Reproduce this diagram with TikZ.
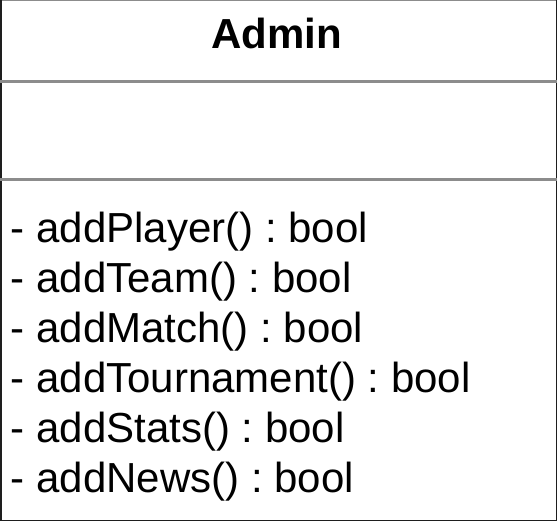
\documentclass[tikz,border=0pt]{standalone}
\usepackage{fontspec}
\setmainfont{Liberation Sans}
\frenchspacing
\definecolor{divgray}{HTML}{8C8C8C}
\definecolor{framedark}{HTML}{1E1E1E}
\begin{document}
\begin{tikzpicture}[x=1pt,y=-1pt,
  title/.style={anchor=base,inner sep=0pt,font=\fontsize{42}{50}\selectfont\bfseries},
  member/.style={anchor=base west,inner sep=0pt,font=\fontsize{42}{50}\selectfont},
  divider/.style={draw=divgray,line width=3pt},
  frame/.style={draw=framedark,line width=3pt}]
  \useasboundingbox (0,0) rectangle (557,521);
  \clip (0,0) rectangle (557,521);
  \fill[white] (0,0) rectangle (557,521);
  % class frame
  \draw[divgray,line width=2pt] (0,0) -- (557,0);
  \draw[frame] (0,0) -- (0,521);
  \draw[frame] (557,0) -- (557,521);
  \draw[frame] (0,521) -- (557,521);
  % compartment separators
  \draw[divider] (0,81.5) -- (557,81.5);
  \draw[divider] (0,180) -- (557,180);
  % class name
  \node[title] (name) at (277,49) {Admin};
  % operations
  \node[member] (op1) at (10.5,243) {- addPlayer() : bool};
  \node[member] (op2) at (10.5,292.8) {- addTeam() : bool};
  \node[member] (op3) at (10.5,342.6) {- addMatch() : bool};
  \node[member] (op4) at (10.5,392.4) {- addTournament() : bool};
  \node[member] (op5) at (10.5,442.2) {- addStats() : bool};
  \node[member] (op6) at (10.5,492) {- addNews() : bool};
\end{tikzpicture}
\end{document}
